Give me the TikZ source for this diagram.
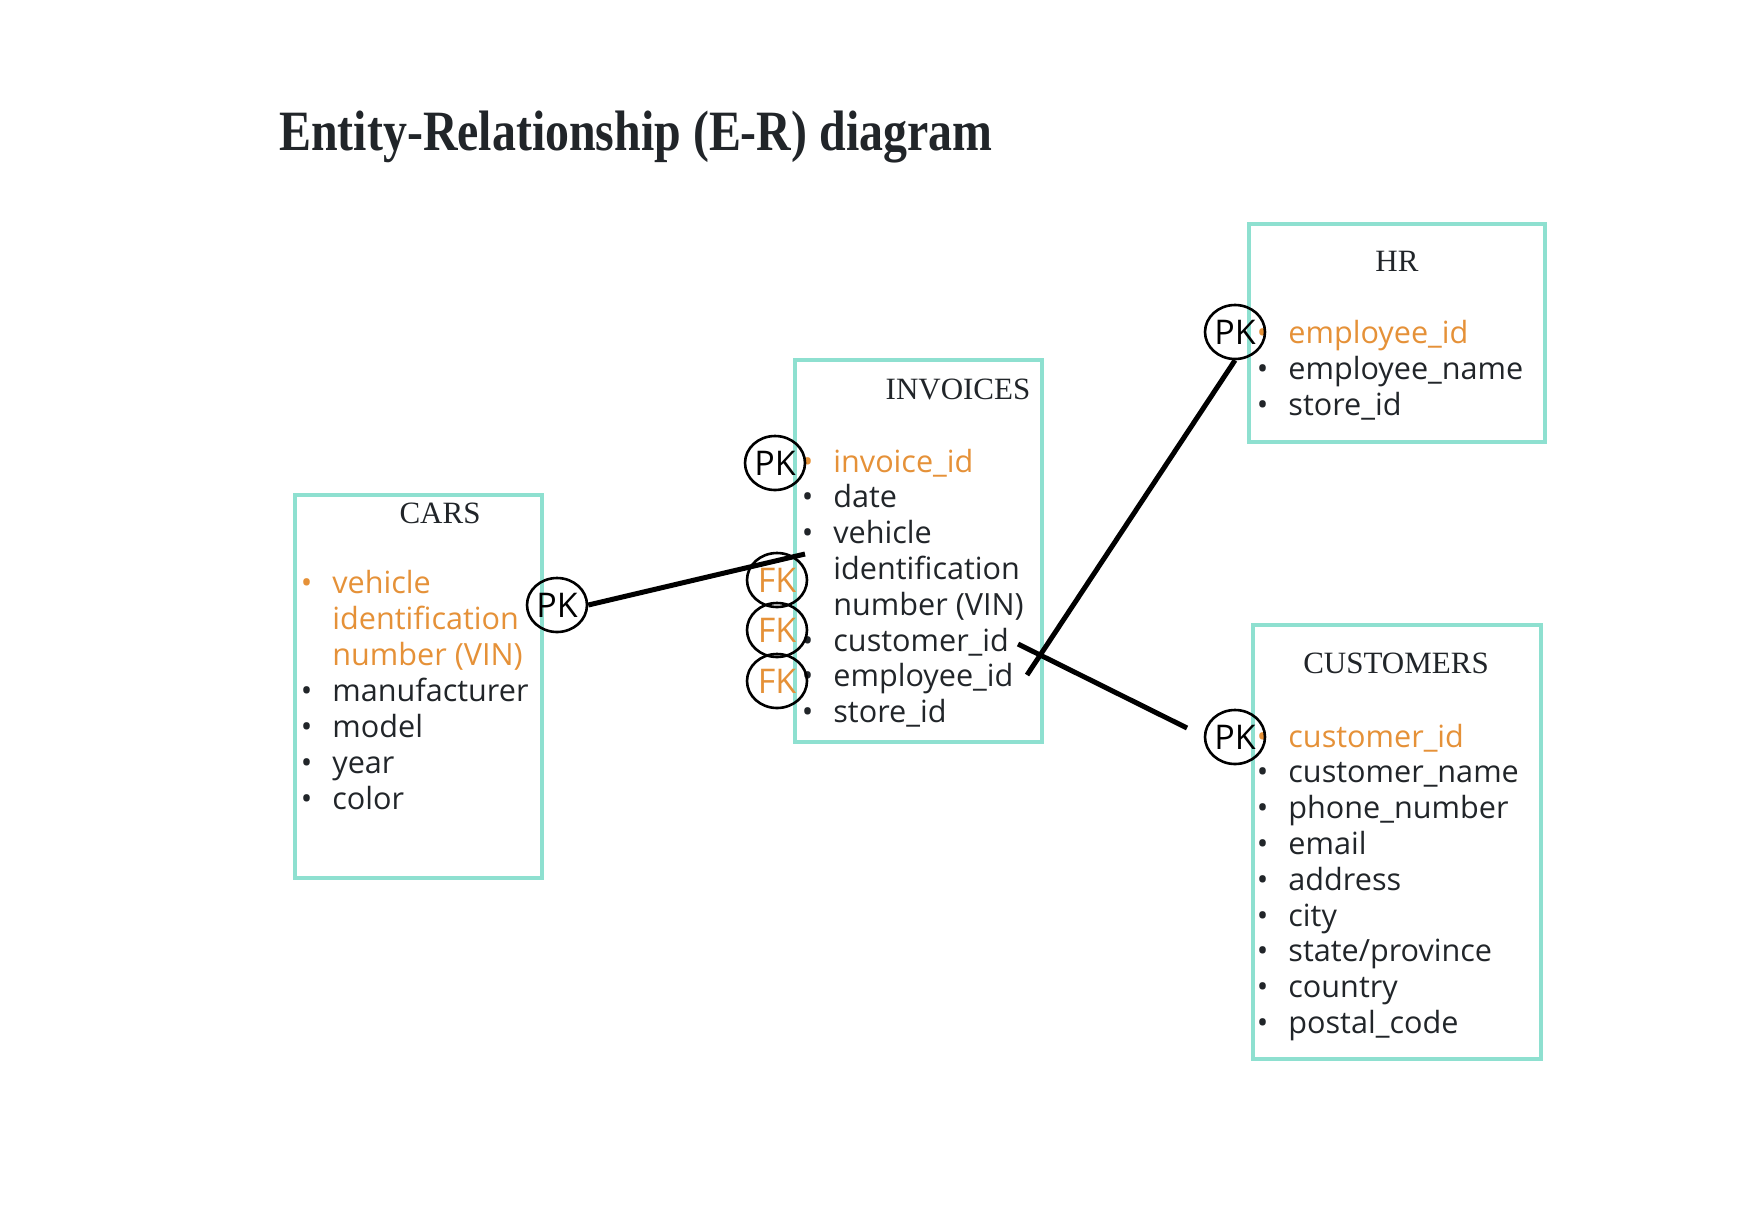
\documentclass[tikz,border=0pt]{standalone}
\usepackage{graphicx}
\usepackage{fontspec}
\setmainfont{Liberation Serif}
\newfontfamily\fieldfont{Open Sans}
\usetikzlibrary{shapes.geometric, fit}
\definecolor{ink}{RGB}{33,37,41}
\definecolor{keyorange}{RGB}{229,145,56}
\definecolor{frame}{RGB}{142,224,208}
\newcommand{\bul}{\llap{\textbullet\hspace{10pt}}}

\begin{document}
\begin{tikzpicture}[x=0.5pt, y=-0.5pt,
  entity/.style={draw=frame, line width=2pt, inner sep=0pt},
  heading/.style={anchor=base, inner sep=0pt, text=ink, font=\fontsize{15.5}{18}\selectfont},
  field/.style={anchor=base west, inner sep=0pt, font=\fieldfont\fontsize{15.3}{18}\selectfont},
  keyring/.style={draw=black, line width=1.3pt, ellipse, inner sep=0pt, minimum width=30pt, minimum height=27pt, font=\fieldfont\fontsize{17}{18}\selectfont},
  link/.style={line width=2.5pt, black}]
	\useasboundingbox (0,0) rectangle (1748,1210);

	\node[anchor=base west, inner sep=0pt, text=ink, font=\bfseries\fontsize{28.5}{30}\selectfont] (title) at (279,150) {\scalebox{0.84}[1]{Entity-Relationship (E-R) diagram}};

	% boxes
	\node[entity, fit={(295,495) (542,878)}] (cars) {};
	\node[entity, fit={(795,360) (1042,742)}] (invoices) {};
	\node[entity, fit={(1249,224) (1545,442)}] (hr) {};
	\node[entity, fit={(1253,625) (1541,1059)}] (customers) {};

	\node[heading] (cars-title) at (440,523) {CARS};
	\node[heading] (inv-title) at (958,399) {INVOICES};
	\node[heading] (hr-title) at (1397,271) {HR};
	\node[heading] (cust-title) at (1396,673) {CUSTOMERS};

	% fields
	\foreach \txt/\col [count=\i from 0] in {\bul vehicle/keyorange, identification/keyorange, number (VIN)/keyorange, \bul manufacturer/ink, \bul model/ink, \bul year/ink, \bul color/ink}
		\node[field, text=\col] (cars-f\i) at (332, 593+36*\i) {\txt};
	\foreach \txt/\col [count=\i from 0] in {\bul invoice\_id/keyorange, \bul date/ink, \bul vehicle/ink, identification/ink, number (VIN)/ink, \bul customer\_id/ink, \bul employee\_id/ink, \bul store\_id/ink}
		\node[field, text=\col] (inv-f\i) at (833, 472+35.8*\i) {\txt};
	\foreach \txt/\col [count=\i from 0] in {\bul employee\_id/keyorange, \bul employee\_name/ink, \bul store\_id/ink}
		\node[field, text=\col] (hr-f\i) at (1288, 343+36*\i) {\txt};
	\foreach \txt/\col [count=\i from 0] in {\bul customer\_id/keyorange, \bul customer\_name/ink, \bul phone\_number/ink, \bul email/ink, \bul address/ink, \bul city/ink, \bul {state/province}/ink, \bul country/ink, \bul postal\_code/ink}
		\node[field, text=\col] (cust-f\i) at (1288, 747+35.8*\i) {\txt};

	% keys
	\node[keyring] (cars-pk) at (557,605) {PK};
	\node[keyring] (inv-pk) at (775,463) {PK};
	\node[keyring, text=keyorange] (inv-fk1) at (777,580) {FK};
	\node[keyring, text=keyorange] (inv-fk2) at (777,630) {FK};
	\node[keyring, text=keyorange] (inv-fk3) at (777,681) {FK};
	\node[keyring] (hr-pk) at (1235,332) {PK};
	\node[keyring] (cust-pk) at (1235,737) {PK};

	% relations
	\coordinate (vin-end) at (805,554);
	\draw[link] (cars-pk.east) -- (vin-end);
	\coordinate (emp-end) at (1027,675);
	\draw[link] (hr-pk.south) -- (emp-end);
	\coordinate (cust-start) at (1018,644);
	\coordinate (cust-end) at (1187,728);
	\draw[link] (cust-start) -- (cust-end);
\end{tikzpicture}
\end{document}
